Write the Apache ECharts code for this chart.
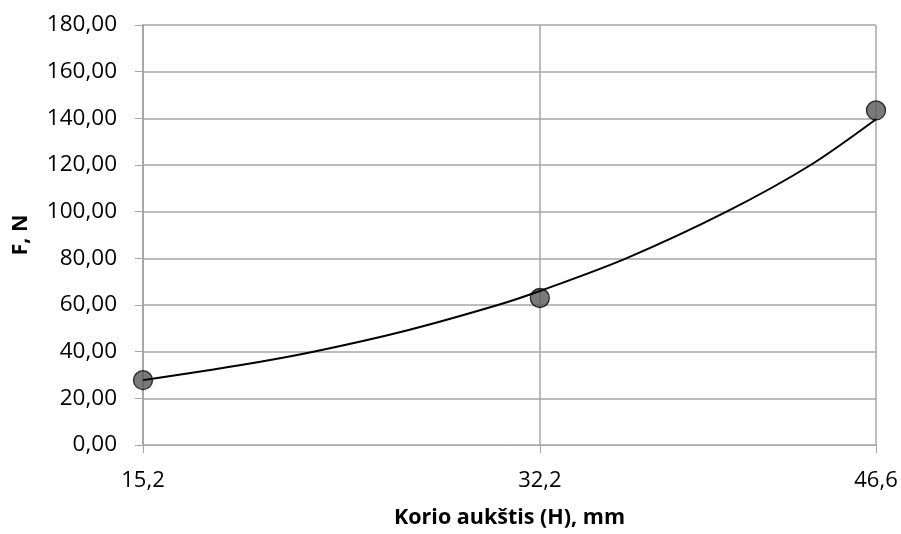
<!DOCTYPE html>
<html>
<head>
<meta charset="utf-8">
<script src="https://cdn.jsdelivr.net/npm/echarts@6/dist/echarts.min.js"></script>
<style>html,body{margin:0;padding:0;background:#fff}#c{width:901px;height:534px}</style>
</head>
<body>
<div id="c"></div>
<script>
// Measured points
const heightH = [15.2, 32.2, 46.6];
const forceF = [27.8, 63.0, 143.4];
// Trendline
const trendX = [15.2, 19.4, 22.5, 26.5, 30.4, 32.2, 35.9, 40.2, 43.8, 46.6];
const trendY = [27.8, 34.3, 40.0, 49.1, 60.0, 66.0, 80.0, 100.0, 120.0, 139.6];
// Axis settings
const xTickValues = [15.2, 32.2, 46.6];
const yMin = 0, yMax = 180, yStep = 20;
const xName = 'Korio aukštis (H), mm';
const yName = 'F, N';

const FONT = 'Open Sans';
const GRID = '#a6a6a6';
const chart = echarts.init(document.getElementById('c'), null, {renderer: 'canvas'});
chart.setOption({
  animation: false,
  backgroundColor: '#ffffff',
  grid: {left: 143, right: 25, top: 25, bottom: 86, containLabel: false},
  xAxis: {
    type: 'value', min: heightH[0], max: heightH[heightH.length - 1],
    name: xName, nameLocation: 'middle', nameGap: 62,
    nameTextStyle: {fontFamily: FONT, fontWeight: 'bold', fontSize: 21.5, color: '#000'},
    axisLine: {show: true, lineStyle: {color: GRID, width: 1}},
    axisTick: {show: true, length: 8, customValues: xTickValues, lineStyle: {color: GRID}},
    axisLabel: {customValues: xTickValues, margin: 25, fontFamily: FONT, fontSize: 22, color: '#000',
      formatter: v => String(v).replace('.', ',')},
    splitLine: {show: true, lineStyle: {color: GRID, width: 1.5}}
  },
  yAxis: {
    type: 'value', min: yMin, max: yMax, interval: yStep,
    name: yName, nameLocation: 'middle', nameGap: 111,
    nameTextStyle: {fontFamily: FONT, fontWeight: 'bold', fontSize: 21.5, color: '#000'},
    axisLine: {show: true, lineStyle: {color: GRID, width: 2}},
    axisTick: {show: true, length: 8, lineStyle: {color: GRID}},
    axisLabel: {margin: 26, fontFamily: FONT, fontSize: 22.5, color: '#000',
      formatter: v => v.toFixed(2).replace('.', ',')},
    splitLine: {show: true, lineStyle: {color: GRID, width: 1.5}}
  },
  series: [
    {
      type: 'scatter', data: heightH.map((x, i) => [x, forceF[i]]),
      symbol: 'circle', symbolSize: 19, z: 2,
      itemStyle: {color: '#595959', borderColor: '#000', borderWidth: 1.3}
    },
    {
      type: 'line', data: trendX.map((x, i) => [x, trendY[i]]),
      showSymbol: false, smooth: 0.3, z: 3,
      lineStyle: {color: '#000', width: 2}
    }
  ]
});
</script>
</body>
</html>
